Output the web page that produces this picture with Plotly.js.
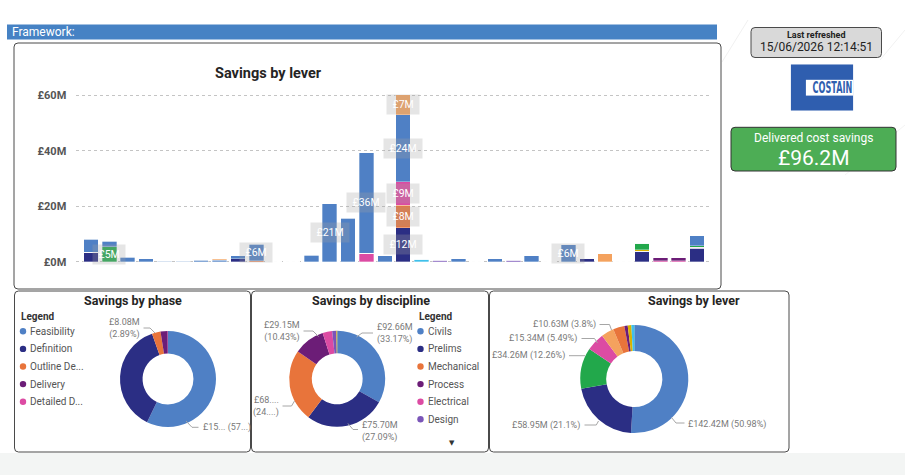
<!DOCTYPE html>
<html><head><meta charset="utf-8">
<script src="https://cdn.plot.ly/plotly-3.0.1.min.js"></script>
<style>html,body{margin:0;padding:0;background:#fff;overflow:hidden}#chart{width:905px;height:475px}</style>
</head><body><div id="chart"></div>
<script>
// ---------------- DATA ----------------
const projects = ['P01','P02','P03','P04','P05','P06','P07','P08','P09','P10','P11','P12','P13','P14','P15','P16','P17',
                  'P18','P19','P20','P21','P22','P23','P24','P25','P26','P27','P28','P29','P30','P31','P32','P33','P34'];
// stacked series (£M per project)
const navyVals   = [3.4,0,0,0,0,0,0,0,1.0,0, 0,0,0,0,0,0,0,12.2,0,0, 0,0,0,0,0,0,0,1.3,0,0, 3.8,0,0,4.8];
const orangeVals = [0,0,0,0,0,0,0,0,0,0.4, 0,0,0,0,0,0,0,8.2,0,0, 0,0,0,0,0,0,0,0,0,0, 0,0,0,0];
const pinkVals   = [0,0,0,0,0,0,0,0,0,0, 0,0,0,0,0,3.0,0,8.5,0,0, 0,0,0,0,0,0,0,0,0,0, 0,0.3,0.3,0.5];
const purpleVals = [0,0,0,0,0,0,0,0,0,0, 0,0,0,0,0,0,0,0,0,0, 0,0,0,0,0,0,0,0,0,0, 0,1.2,1.2,0];
const yellowVals = [0,0,0,0,0,0,0,0,0,0, 0,0,0,0,0,0,0,0,0,0, 0,0,0,0,0,0,0,0,0,0, 0.6,0,0,0];
const greenVals  = [0,5.4,0,0,0,0,0,0,0,0, 0,0,0,0,0,0,0,0,0,0, 0,0,0,0,0,0,0,0,0,0, 2.2,0,0,0.4];
const cyanVals   = [0,0,0,0,0,0,0,0,0,0, 0,0,0,0,0,0,0,0,0.9,0, 0,0,0,0,0,0,0,0,0,0, 0,0,0,0];
const violetVals = [0,0,0,0,0,0,0,0,0,0, 0,0,0,0,0,0,0,0,0,0.6, 0,0,0,0.5,0,0,0,0,0,0, 0,0,0,0];
const blueVals   = [4.7,1.9,1.6,1.0,0.15,0.15,0.6,0.5,1.1,5.9, 0,0,2.4,20.9,15.7,36.4,2.1,24.1,0,0, 1.0,0,1.1,0,2.2,0,6.2,0,0,0, 0,0,0,3.7];
const ltOrangeVals = [0,0,0,0,0,0,0,0.4,0,0, 0,0,0,0,0,0,0,7.2,0,0, 0,0,0,0,0,0,0,0,2.8,0, 0,0,0,0];
const yTicks = [0,20,40,60];

const phaseNames  = ['Feasibility','Definition','Outline Design','Delivery','Detailed Design'];
const phaseValues = [159.8,104.5,8.08,6.7,0.3];
const disciplineNames  = ['Civils','Prelims','Mechanical','Process','Electrical','Design','Other'];
const disciplineValues = [92.66,75.70,68.2,29.15,9.0,3.93,0.75];
const leverNames  = ['Lever 1','Lever 2','Lever 3','Lever 4','Lever 5','Lever 6','Lever 7','Lever 8','Lever 9'];
const leverValues = [142.42,58.95,34.26,15.34,10.63,9.5,2.8,3.05,2.43];

const deliveredSavings = 96.2;
const lastRefreshed = '15/06/2026 12:14:51';

// ---------------- STYLE ----------------
const C = {blue:'#4F80C5', navy:'#2B2E84', orange:'#E8743B', pink:'#DC4BA3', purple:'#6C1D77',
           yellow:'#D9B300', green:'#22A84B', cyan:'#3FC0EA', violet:'#7A55B8', ltOrange:'#F4A25E'};
const FONT = 'Roboto, "DejaVu Sans", sans-serif';
const W = 905, H = 475;
const X = v => v / W, Y = v => 1 - v / H;

// ---------------- BAR TRACES ----------------
const stack = [
  ['Lever 2', navyVals, C.navy], ['Lever 6', orangeVals, C.orange], ['Lever 4', pinkVals, C.pink],
  ['Lever 7', purpleVals, C.purple], ['Lever 8', yellowVals, C.yellow], ['Lever 3', greenVals, C.green],
  ['Lever 9', cyanVals, C.cyan], ['Lever 10', violetVals, C.violet], ['Lever 1', blueVals, C.blue],
  ['Lever 5', ltOrangeVals, C.ltOrange]
];
const traces = stack.map(([name, vals, col]) => ({
  type:'bar', name, x:projects, y:vals, marker:{color:col, line:{color:'rgba(255,255,255,0.4)', width:0.8}},
  hoverinfo:'skip', showlegend:false
}));

// labelled segments (series name, project index)
const labelled = [['Lever 3',1],['Lever 1',9],['Lever 1',13],['Lever 1',15],['Lever 2',17],['Lever 6',17],
                  ['Lever 4',17],['Lever 1',17],['Lever 5',17],['Lever 1',26]];
const annotations = [];
labelled.forEach(([nm, i]) => {
  let base = 0;
  for (const [name, vals] of stack) {
    if (name === nm) {
      const v = vals[i];
      annotations.push({xref:'x', yref:'y', x:projects[i], y:base + v/2, showarrow:false,
        text:'\u00a0£' + Math.round(v) + 'M\u00a0', bgcolor:'rgba(160,160,160,0.28)', borderpad:3,
        font:{family:FONT, size:10.5, color:'#ffffff'}});
      break;
    }
    base += vals[i];
  }
});

// ---------------- PIES ----------------
function pie(labels, values, colors, cx, cy, r, hole) {
  return {type:'pie', labels, values, sort:false, direction:'clockwise', rotation:0, hole,
    marker:{colors, line:{width:0}}, textinfo:'none', hoverinfo:'skip', showlegend:false,
    domain:{x:[X(cx - r), X(cx + r)], y:[Y(cy + r), Y(cy - r)]}};
}
traces.push(pie(phaseNames, phaseValues, [C.blue,C.navy,C.orange,C.purple,C.pink], 168, 379, 48, 0.53));
traces.push(pie(disciplineNames, disciplineValues, [C.blue,C.navy,C.orange,C.purple,C.pink,C.violet,C.yellow], 337.2, 378.8, 48, 0.53));
traces.push(pie(leverNames, leverValues, [C.blue,C.navy,C.green,C.pink,C.ltOrange,C.orange,C.purple,C.yellow,C.cyan], 634.3, 379, 54, 0.52));

// ---------------- LAYOUT HELPERS ----------------
const shapes = [];
function rrect(x0, y0, x1, y1, r, fill, line, layer) {
  const rx = r / W, ry = r / H;
  const a = X(x0), b = X(x1), t = Y(y0), u = Y(y1);
  const p = `M ${a+rx},${t} L ${b-rx},${t} Q ${b},${t} ${b},${t-ry} L ${b},${u+ry} Q ${b},${u} ${b-rx},${u} ` +
            `L ${a+rx},${u} Q ${a},${u} ${a},${u+ry} L ${a},${t-ry} Q ${a},${t} ${a+rx},${t} Z`;
  shapes.push({type:'path', xref:'paper', yref:'paper', path:p, fillcolor:fill, line:{color:line, width:line ? 1 : 0}, layer:layer || 'below'});
}
function rect(x0, y0, x1, y1, fill, layer) {
  shapes.push({type:'rect', xref:'paper', yref:'paper', x0:X(x0), x1:X(x1), y0:Y(y1), y1:Y(y0), fillcolor:fill, line:{width:0}, layer:layer || 'below'});
}
function poly(pts, color, layer) {
  shapes.push({type:'path', xref:'paper', yref:'paper', layer:layer || 'above',
    path:pts.map((p, k) => (k ? 'L ' : 'M ') + X(p[0]) + ',' + Y(p[1])).join(' '), line:{color:color || '#a6a6a6', width:1}});
}
function dot(x, y, r, col) {
  shapes.push({type:'circle', xref:'paper', yref:'paper', x0:X(x-r), x1:X(x+r), y0:Y(y+r), y1:Y(y-r), fillcolor:col, line:{width:0}, layer:'above'});
}
function txt(x, y, text, size, color, xa, extra) {
  annotations.push(Object.assign({xref:'paper', yref:'paper', x:X(x), y:Y(y), text, showarrow:false,
    xanchor:xa || 'center', yanchor:'middle', font:{family:FONT, size, color}}, extra || {}));
}
const trunc = (s, n) => s.length > n ? s.slice(0, n) + '...' : s;
const legendName = s => s.length > 11 ? s.slice(0, 10) + '...' : s;
const total = a => a.reduce((s, v) => s + v, 0);
const money = v => '£' + v.toFixed(2) + 'M';
const pct = (v, arr) => (+(v / total(arr) * 100).toFixed(2)) + '%';

// ---------------- BACKGROUND / PANELS ----------------
rect(0, 453, 905, 475, '#F3F5F4');
poly([[722,62],[748,20]], '#f1f1f1', 'below');
poly([[880,60],[905,30]], '#f1f1f1', 'below');
poly([[845,175],[905,125]], '#f3f3f3', 'below');
rect(7, 24.5, 717, 39.5, '#4682C4');
txt(10, 32, 'Framework:', 12, '#ffffff', 'left');
rrect(14, 43, 721, 289, 4, 'rgba(0,0,0,0)', '#4a4a4a');
rrect(14.5, 291, 250.5, 452, 4, 'rgba(0,0,0,0)', '#4a4a4a');
rrect(251.5, 291, 488.5, 452, 4, 'rgba(0,0,0,0)', '#4a4a4a');
rrect(489.5, 291, 789, 452, 4, 'rgba(0,0,0,0)', '#4a4a4a');

// right side
rrect(751, 27.5, 881.5, 57.5, 4, '#D9D9D9', '#4a4a4a');
txt(816, 35, '<b>Last refreshed</b>', 9, '#222');
txt(816, 47, lastRefreshed, 12, '#222');
const logo = "<svg xmlns='http://www.w3.org/2000/svg' width='63' height='47' viewBox='0 0 63 47'>" +
  "<rect width='63' height='47' fill='#2F5EAF'/><rect x='15.3' y='15.7' width='47.7' height='16' fill='#ffffff'/>" +
  "<text x='22' y='29.4' textLength='40' lengthAdjust='spacingAndGlyphs' font-family='DejaVu Sans, Roboto, sans-serif' " +
  "font-weight='bold' font-size='15.5' fill='#2F5EAF'>COSTAIN</text></svg>";
const images = [{source:'data:image/svg+xml;charset=utf-8,' + encodeURIComponent(logo), xref:'paper', yref:'paper',
  x:X(790.7), y:Y(64.3), sizex:62.6 / W, sizey:46.4 / H, xanchor:'left', yanchor:'top', sizing:'stretch', layer:'above'}];
rrect(731, 127.3, 896, 171, 4, '#4DAD55', '#333');
txt(813.5, 137.5, 'Delivered cost savings', 12, '#ffffff');
txt(813.5, 158, '£' + deliveredSavings.toFixed(1) + 'M', 21, '#ffffff');

// titles
txt(268.5, 74, '<b>Savings by lever</b>', 14.5, '#252423');
txt(132.5, 300.5, '<b>Savings by phase</b>', 12.5, '#252423');
txt(371, 300.5, '<b>Savings by discipline</b>', 12.5, '#252423');
txt(694, 300.5, '<b>Savings by lever</b>', 12.5, '#252423');

// legends
function legend(x, names, colors) {
  txt(x - 1, 316, '<b>Legend</b>', 10, '#333', 'left');
  names.forEach((n, k) => {
    const y = 331.3 + k * 17.6;
    dot(x + 3, y, 3.2, colors[k]);
    txt(x + 8, y, legendName(n), 10, '#555', 'left');
  });
}
legend(20, phaseNames, [C.blue,C.navy,C.orange,C.purple,C.pink]);
legend(417.5, disciplineNames.slice(0, 6), [C.blue,C.navy,C.orange,C.purple,C.pink,C.violet]);
txt(451.7, 442.5, '▼', 7, '#333');

// donut data labels with leader lines
const LC = '#7a7a7a', LS = 9;
// phase
txt(141.5, 328, money(phaseValues[2]) + '<br>(' + pct(phaseValues[2], phaseValues) + ')', LS, LC, 'right', {align:'right'});
poly([[143.5,328],[150,328],[155,333]]);
txt(200.5, 427.3, trunc(money(phaseValues[0]), 3) + ' (' + trunc(pct(phaseValues[0], phaseValues), 2) + ')', LS, LC, 'left');
poly([[186,421],[192,427.3],[198.5,427.3]]);
// discipline
txt(375, 333.3, money(disciplineValues[0]) + '<br>(' + pct(disciplineValues[0], disciplineValues) + ')', LS, LC, 'left', {align:'left'});
poly([[356.5,337],[362,333],[373,333]]);
txt(301.7, 331, money(disciplineValues[3]) + '<br>(' + pct(disciplineValues[3], disciplineValues) + ')', LS, LC, 'right', {align:'right'});
poly([[303.5,331],[313,331],[318.5,336.5]]);
txt(280.7, 406.3, trunc(money(disciplineValues[2]), 4) + '<br>(' + trunc(pct(disciplineValues[2], disciplineValues), 3) + ')', LS, LC, 'right', {align:'right'});
poly([[282.5,406],[291.5,406],[294.5,401]]);
txt(360, 431.3, money(disciplineValues[1]) + '<br>(' + pct(disciplineValues[1], disciplineValues) + ')', LS, LC, 'left', {align:'left'});
poly([[348,423.5],[353,429.5],[358,429.5]]);
// lever
const lv = k => money(leverValues[k]) + ' (' + pct(leverValues[k], leverValues) + ')';
txt(597.5, 324.5, lv(4), LS, LC, 'right'); poly([[599.5,324.5],[609.5,324.5],[611.5,330]]);
txt(579, 338.5, lv(3), LS, LC, 'right'); poly([[581.5,338.5],[594.5,338.5],[597.5,343]]);
txt(567, 355.7, lv(2), LS, LC, 'right'); poly([[569,355.7],[585,355.7]]);
txt(582.3, 425, lv(1), LS, LC, 'right'); poly([[584.5,425],[596.3,425],[598.5,421]]);
txt(686.3, 424, lv(0), LS, LC, 'left'); poly([[671.5,417.5],[676,423],[684.5,423]]);

// ---------------- LAYOUT ----------------
const layout = {
  width:W, height:H, margin:{l:0,r:0,t:0,b:0}, paper_bgcolor:'#ffffff', plot_bgcolor:'rgba(0,0,0,0)',
  barmode:'stack', bargap:0.21, showlegend:false, font:{family:FONT},
  xaxis:{domain:[X(76.3), X(711.7)], anchor:'y', type:'category', range:[-0.8, 33.8], showticklabels:false,
         showgrid:false, zeroline:false, showline:false, ticks:'', fixedrange:true},
  yaxis:{domain:[Y(264.5), Y(84.3)], anchor:'x', range:[-1, 64], tickvals:yTicks, ticktext:yTicks.map(v => '£' + v + 'M'),
         tickfont:{family:FONT, size:11, color:'#555', weight:'bold'}, ticklabelstandoff:9,
         showgrid:true, gridcolor:'#c4c4c4', griddash:'dot', gridwidth:1, zeroline:false, showline:false, ticks:'', fixedrange:true},
  shapes, annotations, images
};
Plotly.newPlot('chart', traces, layout, {staticPlot:true, displayModeBar:false});
</script>
</body></html>
